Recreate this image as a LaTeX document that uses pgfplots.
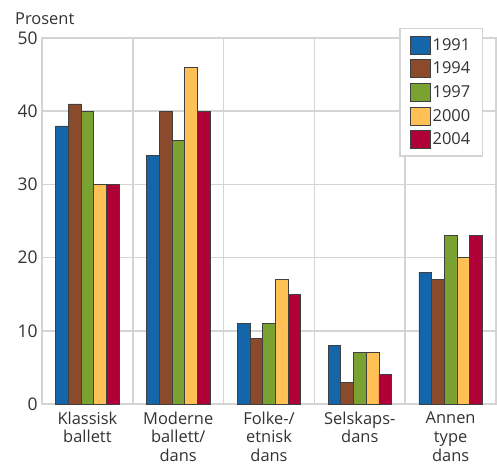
\documentclass[border=0pt]{standalone}
\usepackage{pgfplots}
\pgfplotsset{compat=1.18}
\usepackage{fontspec}
\setmainfont{Open Sans}
\definecolor{c1}{HTML}{1565AB}
\definecolor{c2}{HTML}{8B4A2B}
\definecolor{c3}{HTML}{7AA230}
\definecolor{c4}{HTML}{FFC056}
\definecolor{c5}{HTML}{B00038}
\definecolor{txt}{HTML}{333333}
\definecolor{gridc}{HTML}{D4D4D4}
\begin{document}
\begin{tikzpicture}
\begin{axis}[
  name=ax,
  scale only axis,
  width=454bp, height=366bp,
  xmin=-0.5, xmax=4.5, ymin=0, ymax=50,
  ytick={0,10,20,30,40,50},
  xtick={0,1,2,3,4},
  xticklabels={Klassisk\\ballett, Moderne\\ballett/\\dans, Folke-/\\etnisk\\dans, Selskaps-\\dans, Annen\\type\\dans},
  minor xtick={0.5,1.5,2.5,3.5},
  xminorgrids=true, ymajorgrids=true,
  major tick length=0pt, minor tick length=0pt,
  grid style={draw=gridc, line width=1.5bp},
  minor grid style={draw=gridc, line width=1.5bp},
  axis line style={draw=gridc, line width=1.5bp},
  /pgf/number format/assume math mode=true,
  tick label style={font=\fontsize{16.5}{19}\selectfont, text=txt},
  yticklabel style={font=\fontsize{17.5}{19.5}\selectfont, xshift=-1bp},
  xticklabel style={align=center, anchor=north, yshift=-4bp},
  ybar, bar width=12.7bp,
  every axis plot/.append style={draw=black!75, line width=0.6bp},
  legend style={at={(1,1)}, anchor=north east, xshift=-13bp, yshift=10bp,
    draw=gridc, line width=1.5bp, fill=white, font=\fontsize{16.5}{19}\selectfont, text=txt,
    row sep=5bp, inner xsep=10bp, inner ysep=7bp},
  legend cell align=left,
  legend image code/.code={\draw[#1, line width=0.6bp, draw=black!75] (0bp,-9bp) rectangle (20bp,9bp);},
]
\addplot[fill=c1, bar shift=-25.4bp] coordinates {(0,38) (1,34) (2,11) (3,8) (4,18)};
\addplot[fill=c2, bar shift=-12.7bp] coordinates {(0,41) (1,40) (2,9) (3,3) (4,17)};
\addplot[fill=c3, bar shift=0bp] coordinates {(0,40) (1,36) (2,11) (3,7) (4,23)};
\addplot[fill=c4, bar shift=12.7bp] coordinates {(0,30) (1,46) (2,17) (3,7) (4,20)};
\addplot[fill=c5, bar shift=25.4bp] coordinates {(0,30) (1,40) (2,15) (3,4) (4,23)};
\legend{1991,1994,1997,2000,2004}
\end{axis}
\node[anchor=base west, font=\fontsize{16.5}{19}\selectfont, text=txt, inner sep=0pt] at ([xshift=-27bp, yshift=13bp]ax.north west) {Prosent};
\pgfresetboundingbox
\path[use as bounding box] ([xshift=-42bp,yshift=-63bp]ax.south west) rectangle ([xshift=1bp,yshift=38bp]ax.north east);
\end{tikzpicture}
\end{document}
